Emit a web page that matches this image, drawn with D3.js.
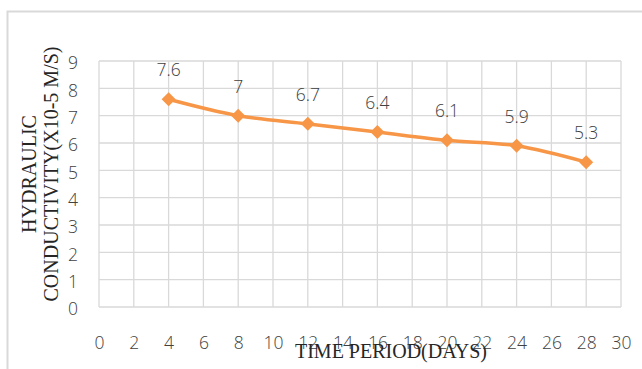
<!DOCTYPE html>
<html>
<head>
<meta charset="utf-8">
<script src="https://cdn.jsdelivr.net/npm/d3@7"></script>
<style>
  html, body { margin: 0; padding: 0; background: #fff; }
  svg { display: block; }
</style>
</head>
<body>
<svg id="chart" width="642" height="369"></svg>
<script>
// Hydraulic conductivity over curing time
const days = [4, 8, 12, 16, 20, 24, 28];
const conductivity = [7.6, 7, 6.7, 6.4, 6.1, 5.9, 5.3];
const xTicks = d3.range(0, 31, 2);
const yTicks = d3.range(0, 10, 1);
const xTitle = "TIME PERIOD(DAYS)";
const yTitleLines = ["HYDRAULIC", "CONDUCTIVITY(X10-5 M/S)"];

const svg = d3.select("#chart");
const W = 642, H = 369;
const plot = { left: 99, right: 621, top: 61, bottom: 307 };

// chart frame
svg.append("rect")
  .attr("x", 7.5).attr("y", 11.5)
  .attr("width", W + 10).attr("height", H + 10)
  .attr("fill", "#fff")
  .attr("stroke", "#d9d9d9").attr("stroke-width", 2);

const x = d3.scaleLinear().domain([0, 30]).range([plot.left, plot.right]);
const y = d3.scaleLinear().domain([0, 9]).range([plot.bottom, plot.top]);

// gridlines
const grid = svg.append("g").attr("stroke", "#d9d9d9").attr("stroke-width", 1.3);
grid.selectAll("line.v").data(xTicks).join("line")
  .attr("x1", d => x(d)).attr("x2", d => x(d))
  .attr("y1", plot.top).attr("y2", plot.bottom);
grid.selectAll("line.h").data(yTicks).join("line")
  .attr("x1", plot.left).attr("x2", plot.right)
  .attr("y1", d => y(d)).attr("y2", d => y(d));

const tickFont = "'Open Sans', 'Noto Sans', sans-serif";
const tickWeight = 300;

// axes (labels only)
const xAxis = svg.append("g")
  .attr("transform", `translate(0,${plot.bottom})`)
  .call(d3.axisBottom(x).tickValues(xTicks).tickSize(0).tickPadding(0).tickFormat(d3.format("d")));
xAxis.select(".domain").remove();
xAxis.selectAll("text")
  .attr("y", 42).attr("dy", 0)
  .attr("font-family", tickFont).attr("font-size", 17.5).attr("font-weight", tickWeight)
  .attr("fill", "#404040");

const yAxis = svg.append("g")
  .attr("transform", `translate(${plot.left},0)`)
  .call(d3.axisLeft(y).tickValues(yTicks).tickSize(0).tickPadding(0).tickFormat(d3.format("d")));
yAxis.select(".domain").remove();
yAxis.selectAll("text")
  .attr("x", -21).attr("dy", "0.45em")
  .attr("font-family", tickFont).attr("font-size", 17.5).attr("font-weight", tickWeight)
  .attr("fill", "#404040");

// series line
const pts = days.map((d, i) => [d, conductivity[i]]);
svg.append("path")
  .datum(pts)
  .attr("fill", "none")
  .attr("stroke", "#f79646")
  .attr("stroke-width", 3.5)
  .attr("stroke-linejoin", "round")
  .attr("d", d3.line().x(d => x(d[0])).y(d => y(d[1])).curve(d3.curveCatmullRom.alpha(0.5)));

// diamond markers
svg.append("g").selectAll("path").data(pts).join("path")
  .attr("transform", d => `translate(${x(d[0])},${y(d[1])})`)
  .attr("d", "M0,-7L7,0L0,7L-7,0Z")
  .attr("fill", "#f79646");

// value labels
svg.append("g").selectAll("text").data(pts).join("text")
  .attr("x", d => x(d[0]))
  .attr("y", d => y(d[1]) - 23)
  .attr("text-anchor", "middle")
  .attr("font-family", tickFont).attr("font-size", 17.5).attr("font-weight", tickWeight)
  .attr("fill", "#404040")
  .text(d => d[1]);

// axis titles
const titleFont = "'Liberation Serif', 'Times New Roman', serif";
svg.append("text")
  .attr("x", 391).attr("y", 358)
  .attr("text-anchor", "middle")
  .attr("font-family", titleFont).attr("font-size", 20)
  .attr("fill", "#262626")
  .text(xTitle);

const yTitle = svg.append("text")
  .attr("transform", "translate(36,174) rotate(-90)")
  .attr("text-anchor", "middle")
  .attr("font-family", titleFont).attr("font-size", 20)
  .attr("fill", "#262626");
yTitleLines.forEach((t, i) => {
  yTitle.append("tspan").attr("x", 0).attr("y", i * 22).text(t);
});
</script>
</body>
</html>
